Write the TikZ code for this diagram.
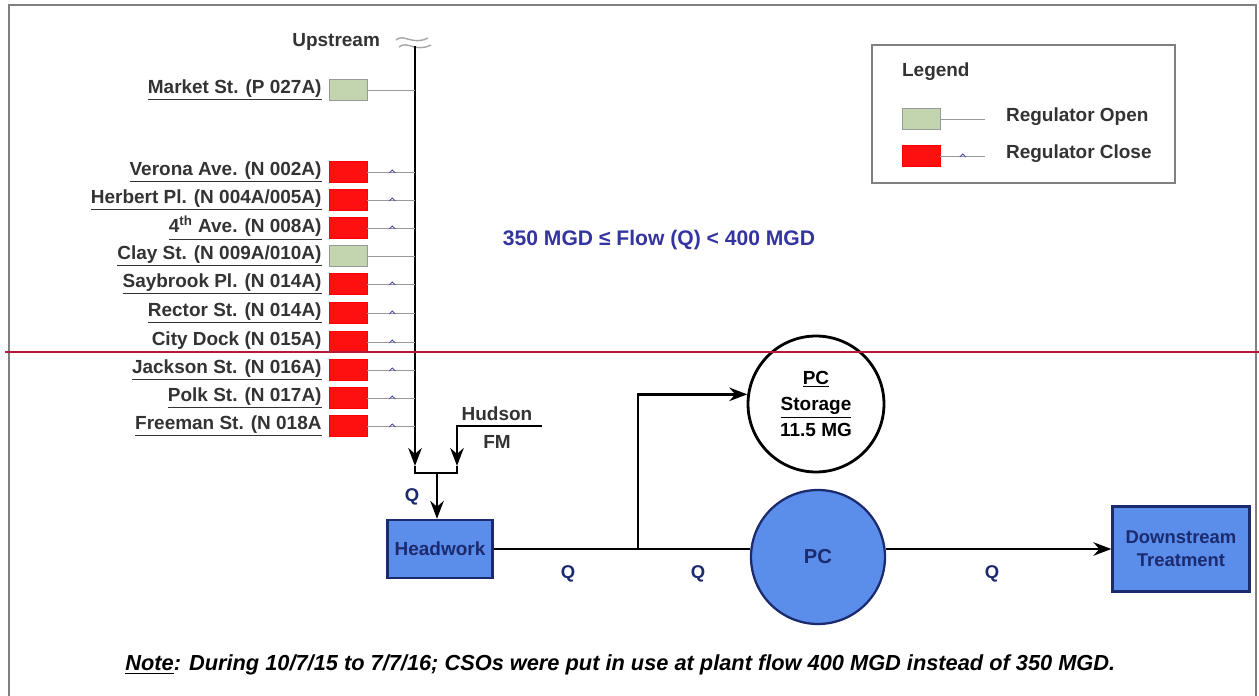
\documentclass[tikz,border=0pt]{standalone}
\usepackage{fontspec}
\setmainfont{Liberation Sans}
\usetikzlibrary{arrows.meta,positioning,calc}
\definecolor{plantblue}{HTML}{5B8DEB}
\definecolor{navy}{HTML}{1C2A6E}
\definecolor{regopen}{HTML}{C2D5AE}
\definecolor{regshut}{HTML}{FF1010}
\definecolor{flowtext}{HTML}{3434A0}
\definecolor{cutline}{HTML}{B5193A}
\newcommand{\ul}[1]{\underline{#1}}

\tikzset{
  sitelbl/.style={font=\bfseries\fontsize{10.8}{12}\selectfont, text=black!80, anchor=east, inner sep=1pt},
  regbox/.style={minimum width=0.76cm, minimum height=0.42cm, inner sep=0pt},
  valveopen/.style={regbox, fill=regopen, draw=gray!80},
  valveshut/.style={regbox, fill=regshut, draw=red},
  tap/.style={draw=gray!80, line width=0.5pt},
  pipe/.style={draw=black, line width=1.6pt},
  unit/.style={draw=navy, line width=1.3pt, fill=plantblue, text=navy, font=\bfseries\fontsize{10.8}{12}\selectfont, align=center},
  qlbl/.style={text=navy, font=\bfseries\fontsize{10.5}{12}\selectfont}
}

\begin{document}
\begin{tikzpicture}[>=Stealth, x=0.02cm, y=-0.02cm]
    \useasboundingbox (0,0) rectangle (1259,696);

    % Frame
    \draw[gray, line width=1.2pt] (9,696) -- (9,5) -- (1256,5) -- (1256,696);

    % Upstream trunk
    \node[sitelbl] (ups) at (382,42) {Upstream};
    \draw[gray!70, line width=0.8pt] (396,40) .. controls (404,33) and (412,46) .. (428,38);
    \draw[gray!70, line width=0.8pt] (399,47) .. controls (407,40) and (415,53) .. (431,45);
    \coordinate (trunk) at (415,46);
    \draw[pipe, ->] (trunk) -- (415,466);

    % Regulators
    \foreach \y/\id/\txt/\st in {
        90/mkt/{Market St. (P 027A)}/valveopen,
        172/ver/{Verona Ave. (N 002A)}/valveshut,
        200/her/{Herbert Pl. (N 004A/005A)}/valveshut,
        228/fou/{4\textsuperscript{th} Ave. (N 008A)}/valveshut,
        256/cla/{Clay St. (N 009A/010A)}/valveopen,
        284/say/{Saybrook Pl. (N 014A)}/valveshut,
        313/rec/{Rector St. (N 014A)}/valveshut,
        342/cit/{City Dock (N 015A)}/valveshut,
        370/jac/{Jackson St. (N 016A)}/valveshut,
        398/pol/{Polk St. (N 017A)}/valveshut,
        426/fre/{Freeman St. (N 018A}/valveshut} {
        \node[\st] (\id) at (348,\y) {};
        \node[sitelbl] at ([xshift=-0.1cm]\id.west) {\ul{\txt}};
        \draw[tap] (\id.east) -- (\id.east -| trunk);
    }
    % valve marks on closed taps
    \foreach \id in {ver,her,fou,say,rec,cit,jac,pol,fre}
        \draw[gray!60!blue, line width=0.5pt] ([xshift=0.5cm]\id.east) ++(-3,1) -- ++(3,-3) -- ++(3,3);

    % Hudson force main
    \node[sitelbl, anchor=center] (hud) at (497,414) {Hudson};
    \node[sitelbl, anchor=center] (fm) at (497,442) {FM};
    \draw[pipe, ->] (542,426) -| (457,466);
    \draw[pipe] (415,466) -- (415,473) -- (457,473) -- (457,466);
    \coordinate (jn) at (437,473);

    % Plant units
    \node[unit, minimum width=2.1cm, minimum height=1.16cm] (hw) at (440,549) {Headwork};
    \node[unit, circle, minimum size=2.68cm, font=\bfseries\fontsize{11.5}{13}\selectfont] (pc) at (818,557) {PC};
    \node[circle, draw, line width=1.6pt, fill=white, minimum size=2.72cm, align=center,
          font=\bfseries\fontsize{10.8}{15}\selectfont] (sto) at (816,404) {\ul{PC}\\\ul{Storage}\\11.5 MG};
    \node[unit, minimum width=2.74cm, minimum height=1.7cm, font=\bfseries\fontsize{10.5}{13}\selectfont] (dst) at (1181,549) {Downstream\\Treatment};

    % Flow lines
    \draw[pipe, ->] (jn) -- (jn |- hw.north);
    \coordinate (tee) at (638,549);
    \draw[pipe] (hw.east) -- (hw.east -| pc.west);
    \draw[pipe, ->] (tee) |- (sto.172);
    \draw[pipe, ->] (pc.east |- dst.west) -- (dst.west);

    % Flow labels
    \node[qlbl] (q0) at (412,497) {Q};
    \node[qlbl] (q1) at (568,574) {Q};
    \node[qlbl] (q2) at (698,574) {Q};
    \node[qlbl] (q3) at (992,574) {Q};
    \node[text=flowtext, font=\bfseries\fontsize{12}{14}\selectfont] (cond) at (659,240) {350 MGD ≤ Flow (Q) < 400 MGD};

    % Legend
    \draw[gray, line width=0.8pt] (872,45) rectangle (1175,183);
    \node[sitelbl, anchor=west] (leg) at (900,72) {Legend};
    \node[valveopen] (lo) at (921,119) {};
    \node[valveshut] (ls) at (921,156) {};
    \coordinate (lend) at (985,0);
    \draw[tap] (lo.east) -- (lo.east -| lend);
    \draw[tap] (ls.east) -- (ls.east -| lend);
    \draw[gray!60!blue, line width=0.5pt] ([xshift=0.45cm]ls.east) ++(-3,1) -- ++(3,-3) -- ++(3,3);
    \node[sitelbl, anchor=west] at (1004,117) {Regulator Open};
    \node[sitelbl, anchor=west] at (1004,154) {Regulator Close};

    % Note
    \node[anchor=west, inner sep=0pt, font=\bfseries\itshape\fontsize{12.4}{14}\selectfont] (note) at (125,665)
        {\ul{Note}: During 10/7/15 to 7/7/16; CSOs were put in use at plant flow 400 MGD instead of 350 MGD.};

    % page cut
    \draw[cutline, line width=1.7pt] (5,352) -- (1259,352);
\end{tikzpicture}
\end{document}
